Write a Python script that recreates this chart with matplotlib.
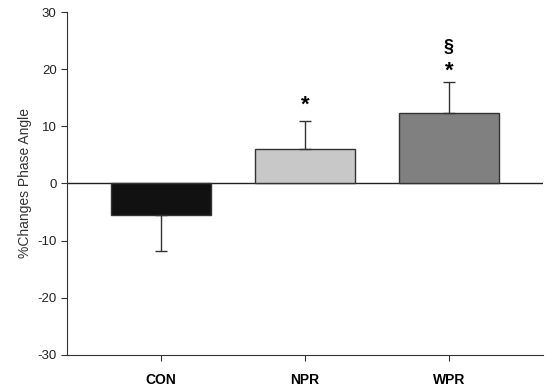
import numpy as np
import matplotlib.pyplot as plt

plt.rcParams['font.family'] = ['Liberation Sans', 'DejaVu Sans']
plt.rcParams['axes.unicode_minus'] = False

groups = ['CON', 'NPR', 'WPR']
means = [-5.5, 6.0, 12.3]
errs = [6.4, 5.0, 5.5]
colors = ['#111111', '#c8c8c8', '#808080']

fig = plt.figure(figsize=(5.5, 3.9), dpi=100)
ax = fig.add_axes([0.122, 0.09, 0.865, 0.879])

x = np.arange(len(groups))
ax.bar(x, means, width=0.7, color=colors, edgecolor='#333333', linewidth=1.0, zorder=2)

# error bars only on the outward side
for xi, m, e in zip(x, means, errs):
    lo, hi = (e, 0) if m < 0 else (0, e)
    ax.errorbar(xi, m, yerr=[[lo], [hi]], fmt='none', ecolor='#333333',
                elinewidth=1.0, capsize=4, capthick=1.0, zorder=3)

ax.axhline(0, color='#222222', linewidth=1.0, zorder=1)

# significance marks
ax.text(1, means[1] + errs[1] + 0.8, '*', ha='center', va='bottom', fontsize=16, fontweight='bold')
ax.text(2, means[2] + errs[2] + 0.1, '*', ha='center', va='bottom', fontsize=16, fontweight='bold')
ax.text(2, means[2] + errs[2] + 4.6, '§', ha='center', va='bottom', fontsize=13, fontweight='bold')

ax.set_xlim(-0.653, 2.653)
ax.set_ylim(-30, 30)
ax.set_yticks(range(-30, 31, 10))
ax.set_xticks(x)
ax.set_xticklabels(groups, fontweight='bold', fontsize=10)
ax.tick_params(axis='y', labelsize=9.5, direction='out', length=4, colors='#333333', labelcolor='#222222')
ax.tick_params(axis='x', direction='out', length=4, colors='#333333', labelcolor='black', pad=9)
ax.set_ylabel('%Changes Phase Angle', fontsize=10, color='#333333')

ax.spines['top'].set_visible(False)
ax.spines['right'].set_visible(False)
ax.spines['left'].set_color('#333333')
ax.spines['bottom'].set_color('#333333')

fig.savefig('out.png', dpi=100)
